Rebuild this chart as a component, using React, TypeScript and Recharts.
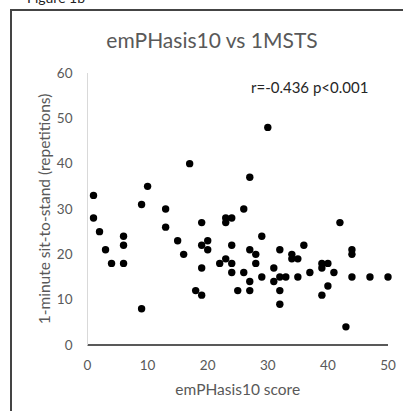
import React from "react"
import { Scatter, ScatterChart, XAxis, YAxis } from "recharts"

// emPHasis10 score vs 1-minute sit-to-stand repetitions
const emphasisScore = [
  1, 1, 2, 3, 4, 6, 6, 6, 9, 9, 10, 13, 13, 15, 16, 17, 18, 19, 19, 19, 19, 20, 20, 22,
  23, 23, 23, 24, 24, 24, 24, 25, 26, 26, 27, 27, 27, 27, 28, 28, 29, 29, 30, 31, 31,
  32, 32, 32, 32, 33, 34, 34, 35, 35, 36, 37, 39, 39, 39, 40, 40, 41, 42, 43, 44, 44,
  44, 47, 50,
]
const stsReps = [
  33, 28, 25, 21, 18, 24, 22, 18, 31, 8, 35, 30, 26, 23, 20, 40, 12, 27, 22, 17, 11, 23, 21, 18,
  28, 27, 19, 28, 22, 18, 16, 12, 30, 16, 37, 21, 14, 12, 20, 18, 24, 15, 48, 17, 14,
  21, 15, 12, 9, 15, 20, 19, 19, 15, 22, 16, 18, 17, 11, 18, 13, 16, 27, 4, 21, 20,
  15, 15, 15,
]
const xTicks = [0, 10, 20, 30, 40, 50]
const yTicks = [0, 10, 20, 30, 40, 50, 60]

const points = emphasisScore.map((x, i) => ({ x, y: stsReps[i] }))

const FONT = "Lato, 'Open Sans', sans-serif"
const GREY = "#595959"

export default function App() {
  return (
    <div
      style={{
        position: "absolute",
        left: 0,
        top: 0,
        width: 403,
        height: 411,
        overflow: "hidden",
        background: "#fff",
        fontFamily: FONT,
      }}
    >
      <div
        style={{
          position: "absolute",
          left: 27,
          top: -11,
          fontSize: 14,
          color: "#222",
          whiteSpace: "nowrap",
        }}
      >
        Figure 1b
      </div>
      <div
        style={{
          position: "absolute",
          left: 10,
          top: 9,
          width: 420,
          height: 420,
          borderLeft: "2px solid #444",
          borderTop: "2px solid #444",
        }}
      />
      <div
        style={{
          position: "absolute",
          left: 212,
          top: 27,
          transform: "translateX(-50%)",
          fontSize: 21,
          color: GREY,
          whiteSpace: "nowrap",
        }}
      >
        emPHasis10 vs 1MSTS
      </div>
      <div
        style={{
          position: "absolute",
          left: 251,
          top: 78,
          fontSize: 15,
          color: "#262626",
          whiteSpace: "nowrap",
        }}
      >
        r=-0.436 p&lt;0.001
      </div>
      <div style={{ position: "absolute", left: 0, top: 0 }}>
        <ScatterChart
          width={403}
          height={411}
          margin={{ top: 73, right: 15, bottom: 36, left: 0.5 }}
        >
          <XAxis
            type="number"
            dataKey="x"
            domain={[0, 50]}
            ticks={xTicks}
            height={30}
            tickLine={false}
            tickMargin={9}
            axisLine={{ stroke: GREY, strokeWidth: 2 }}
            tick={{ fill: GREY, fontSize: 13.5, fontFamily: FONT }}
            label={{
              value: "emPHasis10 score",
              position: "bottom",
              offset: 9,
              fill: GREY,
              fontSize: 15.5,
              fontFamily: FONT,
            }}
          />
          <YAxis
            type="number"
            dataKey="y"
            domain={[0, 60]}
            ticks={yTicks}
            width={87}
            tickLine={false}
            tickMargin={9}
            axisLine={{ stroke: "#d9d9d9" }}
            tick={{ fill: GREY, fontSize: 13.5, fontFamily: FONT }}
            label={{
              value: "1-minute sit-to-stand (repetitions)",
              angle: -90,
              position: "center",
              fill: GREY,
              fontSize: 15.5,
              fontFamily: FONT,
            }}
          />
          <Scatter
            data={points}
            isAnimationActive={false}
            shape={(p: any) => <circle cx={p.cx} cy={p.cy} r={3.7} fill="#000" />}
          />
        </ScatterChart>
      </div>
    </div>
  )
}
